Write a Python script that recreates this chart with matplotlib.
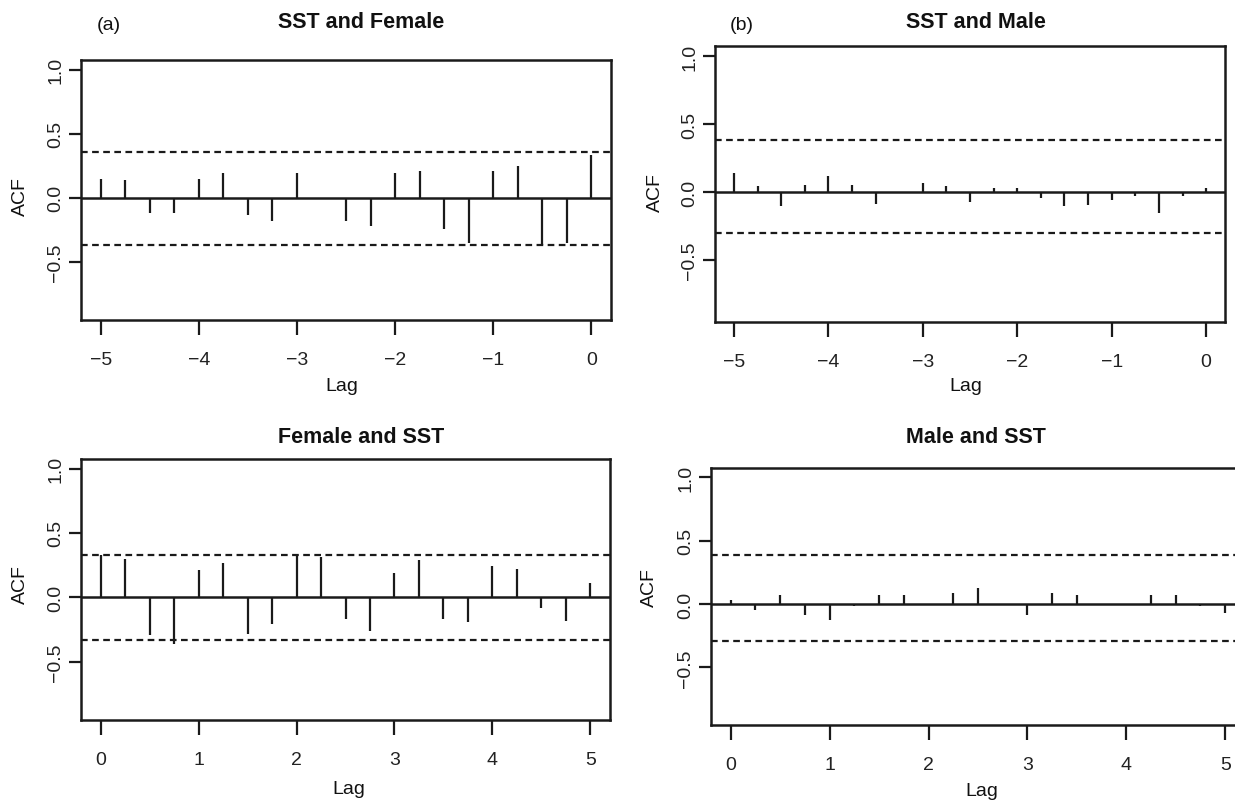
import matplotlib
matplotlib.use("Agg")
import matplotlib.pyplot as plt

plt.rcParams['font.family'] = ['Liberation Sans', 'DejaVu Sans']

# lags (years)
lags_neg = [-5.0, -4.75, -4.5, -4.25, -4.0, -3.75, -3.5, -3.25, -3.0, -2.75, -2.5,
            -2.25, -2.0, -1.75, -1.5, -1.25, -1.0, -0.75, -0.5, -0.25, 0.0]
lags_pos = [0.0, 0.25, 0.5, 0.75, 1.0, 1.25, 1.5, 1.75, 2.0, 2.25, 2.5,
            2.75, 3.0, 3.25, 3.5, 3.75, 4.0, 4.25, 4.5, 4.75, 5.0]

sst_female = [0.147, 0.135, -0.12, -0.12, 0.147, 0.19, -0.135, -0.183, 0.19, 0.0, -0.183,
              -0.22, 0.19, 0.21, -0.246, -0.355, 0.21, 0.249, -0.368, -0.355, 0.33]
sst_male = [0.14, 0.043, -0.101, 0.053, 0.118, 0.053, -0.089, 0.0, 0.068, 0.043, -0.075,
            0.029, 0.031, -0.041, -0.101, -0.092, -0.058, -0.029, -0.152, -0.029, 0.029]
female_sst = [0.33, 0.30, -0.297, -0.36, 0.213, 0.266, -0.287, -0.21, 0.34, 0.315, -0.17,
              -0.26, 0.188, 0.292, -0.17, -0.195, 0.239, 0.223, -0.081, -0.185, 0.114]
male_sst = [0.034, -0.044, 0.07, -0.086, -0.122, -0.018, 0.07, 0.07, 0.0, 0.086, 0.125,
            0.0, -0.086, 0.086, 0.07, 0.0, 0.0, 0.07, 0.07, -0.018, -0.07]

# confidence bands (upper, lower)
ci_sst_female = (0.36, -0.37)
ci_sst_male = (0.386, -0.304)
ci_female_sst = (0.33, -0.335)
ci_male_sst = (0.39, -0.29)

titles = ["SST and Female", "SST and Male", "Female and SST", "Male and SST"]

W, H = 1235, 803
fig = plt.figure(figsize=(W / 100, H / 100), dpi=100)
ink = '#1a1a1a'


def rect(l, t, r, b):
    return [l / W, 1 - b / H, (r - l) / W, (b - t) / H]


def panel(box, lags, vals, ci, xlim, xticks):
    ax = fig.add_axes(rect(*box))
    ax.vlines(lags, 0, vals, color=ink, lw=1.6)
    ax.axhline(0, color=ink, lw=1.8)
    for c in ci:
        ax.axhline(c, color=ink, lw=1.6, ls=(0, (3, 2)))
    ax.set_xlim(*xlim)
    ax.set_ylim(-0.955, 1.075)
    ax.set_xticks(xticks)
    ax.set_xticklabels([str(t).replace('-', '\u2212') for t in xticks])
    ax.set_yticks([-0.5, 0.0, 0.5, 1.0])
    ax.set_yticklabels(['\u22120.5', '0.0', '0.5', '1.0'], rotation=90, va='center')
    ax.tick_params(direction='out', width=1.6, labelsize=14, color=ink,
                   labelcolor='#222222')
    ax.tick_params(axis='x', length=11, pad=11)
    ax.tick_params(axis='y', length=9, pad=3)
    for s in ax.spines.values():
        s.set_linewidth(1.8)
        s.set_color(ink)
    return ax


panel((81, 61, 611, 321), lags_neg, sst_female, ci_sst_female, (-5.2, 0.2), [-5, -4, -3, -2, -1, 0])
panel((715, 47, 1225, 323), lags_neg, sst_male, ci_sst_male, (-5.2, 0.2), [-5, -4, -3, -2, -1, 0])
panel((81, 460, 610, 721), lags_pos, female_sst, ci_female_sst, (-0.2, 5.2), [0, 1, 2, 3, 4, 5])
panel((711, 469, 1245, 726), lags_pos, male_sst, ci_male_sst, (-0.2, 5.2), [0, 1, 2, 3, 4, 5])


def ftext(x, y, s, **kw):
    fig.text(x / W, 1 - y / H, s, ha='center', va='center', color='#111111', **kw)


# titles
for (x, y), t in zip([(361, 22), (976, 22), (361, 438), (976, 438)], titles):
    ftext(x, y, t, fontsize=15.5, fontweight='bold')

ftext(109, 25, "(a)", fontsize=14)
ftext(742, 25, "(b)", fontsize=14)

for x, y in [(20, 197), (655, 193), (20, 585), (649, 588)]:
    ftext(x, y, "ACF", fontsize=14, rotation=90)
for x, y in [(342, 387), (966, 387), (349, 790), (982, 792)]:
    ftext(x, y, "Lag", fontsize=14)

fig.savefig("out.png", dpi=100)
